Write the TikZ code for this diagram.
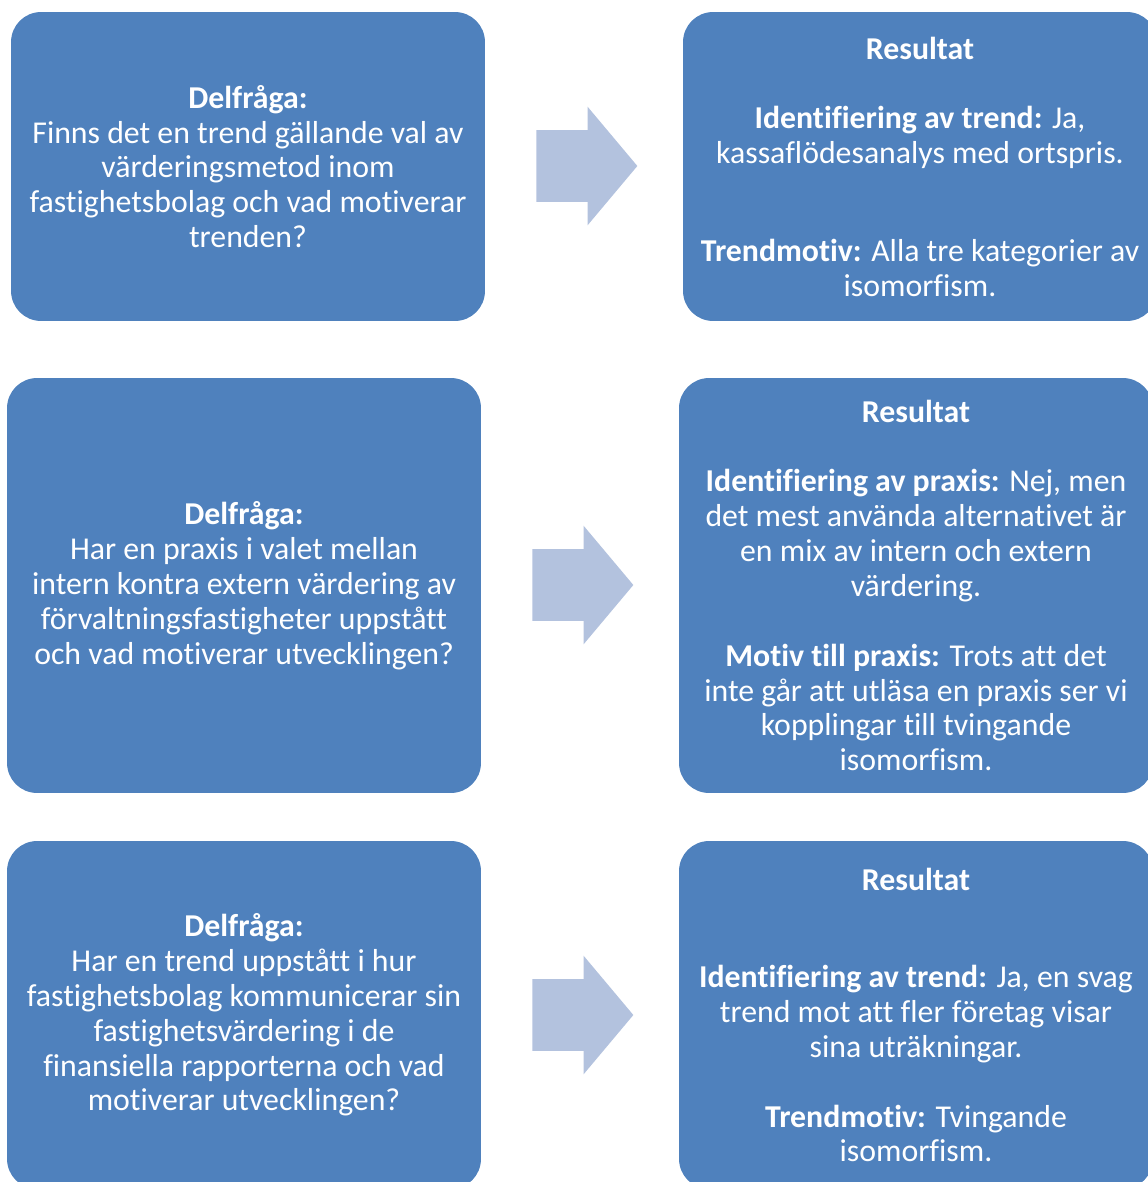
\documentclass[tikz,border=0pt]{standalone}
\usepackage{fontspec}
\setmainfont[Ligatures=NoCommon]{Carlito}
\usetikzlibrary{shapes.arrows}
\definecolor{boxblue}{HTML}{4F81BD}
\definecolor{arrowblue}{HTML}{B3C2DE}

\begin{document}
\begin{tikzpicture}[x=0.02cm, y=-0.02cm,
    ruta/.style={rectangle, rounded corners=0.6cm, fill=boxblue, text=white,
      align=center, minimum width=9.48cm, inner sep=2pt,
      font=\fontsize{18.1}{19.84}\selectfont},
    pil/.style={single arrow, fill=arrowblue, minimum height=2.02cm,
      single arrow head extend=0.47cm, single arrow tip angle=100,
      inner xsep=0pt, inner ysep=0.71cm, anchor=tail}]
    \useasboundingbox (0,0) rectangle (1148,1182);
    \clip (0,0) rectangle (1148,1182);
    % Delfrågor
    \node[ruta, minimum height=6.18cm] (fraga1) at (248,166.5)
    {\textbf{Delfråga:}\\ Finns det en trend gällande val av\\
      värderingsmetod inom\\ fastighetsbolag och vad motiverar\\ trenden?};
    \node[ruta, minimum height=8.30cm] (fraga2) at (244,585.5)
    {\textbf{Delfråga:}\\ Har en praxis i valet mellan\\
      intern kontra extern värdering av\\ förvaltningsfastigheter uppstått\\
      och vad motiverar utvecklingen?};
    \node[ruta, minimum height=6.96cm] (fraga3) at (244,1015)
    {\textbf{Delfråga:}\\ Har en trend uppstått i hur\\
      fastighetsbolag kommunicerar sin\\ fastighetsvärdering i de\\
      finansiella rapporterna och vad\\ motiverar utvecklingen?};
    % Resultat
    \node[ruta, minimum height=6.18cm] (res1) at (920,166.5)
    {\textbf{Resultat}\\[19.8pt]
      \textbf{Identifiering av trend:} Ja,\\ kassaflödesanalys med ortspris.\\[35.7pt]
      \textbf{Trendmotiv:} Alla tre kategorier av\\ isomorfism.};
    \node[ruta, minimum height=8.30cm] (res2) at (916,585.5)
    {\textbf{Resultat}\\[19.8pt]
      \textbf{Identifiering av praxis:} Nej, men\\ det mest använda alternativet är\\
      en mix av intern och extern\\ värdering.\\[19.8pt]
      \textbf{Motiv till praxis:} Trots att det\\ inte går att utläsa en praxis ser vi\\
      kopplingar till tvingande\\ isomorfism.};
    \node[ruta, minimum height=6.96cm] (res3) at (916,1015)
    {\textbf{Resultat}\\[35.7pt]
      \textbf{Identifiering av trend:} Ja, en svag\\ trend mot att fler företag visar\\
      sina uträkningar.\\[19.8pt]
      \textbf{Trendmotiv:} Tvingande\\ isomorfism.};
    % Pilar
    \node[pil] (pil1) at (536,166) {};
    \node[pil] (pil2) at (532,585) {};
    \node[pil] (pil3) at (532,1015) {};
\end{tikzpicture}
\end{document}
